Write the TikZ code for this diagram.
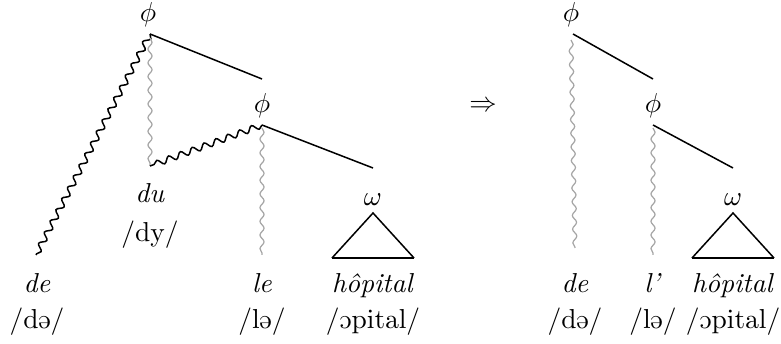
\documentclass[tikz,border=0pt]{standalone}
\usepackage{tipa}
\usetikzlibrary{decorations.pathmorphing}
\begin{document}
\begin{tikzpicture}[x=0.365pt,y=-0.365pt,
  lab/.style={inner sep=0pt, anchor=base},
  solidline/.style={line width=0.55pt},
  wavy/.style={decorate, decoration={snake, amplitude=1.1pt, segment length=4.6pt}, line width=0.55pt},
  gwavy/.style={decorate, decoration={snake, amplitude=0.75pt, segment length=5pt}, draw=black!35, line width=0.45pt},
  tribase/.style={line width=1pt},
  triside/.style={line width=0.55pt}]
\useasboundingbox (0,0) rectangle (781,344);
% ---------- left tree ----------
\node[lab] (phiA) at (148,22) {$\phi$};
\node[lab] (phiB) at (262,113) {$\phi$};
\node[lab] (omA) at (373,206) {$\omega$};
\node[lab] (du) at (150,203) {\textit{du}};
\node[lab] (duipa) at (150,242) {/dy/};
\node[lab] (deA) at (37,292) {\textit{de}};
\node[lab] (deAipa) at (37,328) {/\textipa{d@}/};
\node[lab] (leA) at (262,292) {\textit{le}};
\node[lab] (leAipa) at (262,328) {/\textipa{l@}/};
\node[lab] (hopA) at (373,292) {\textit{h\^opital}};
\node[lab] (hopAipa) at (373,328) {/\textipa{Opital}/};
\coordinate (a1) at (150,34);
\coordinate (a2) at (262,79);
\coordinate (a3) at (36,255);
\coordinate (a4) at (150,38);
\coordinate (a5) at (150,166);
\coordinate (b1) at (262,125);
\coordinate (b2) at (373,168);
\coordinate (b3) at (262,128);
\coordinate (b4) at (262,255);
\coordinate (c0) at (373,213);
\coordinate (c1) at (332,258);
\coordinate (c2) at (414,258);
\draw[solidline] (a1) -- (a2);
\draw[wavy] (a1) -- (a3);
\draw[gwavy] (a4) -- (a5);
\draw[solidline] (b1) -- (b2);
\draw[wavy] (b1) -- (a5);
\draw[gwavy] (b3) -- (b4);
\draw[triside] (c1) -- (c0) -- (c2);
\draw[tribase] (c1) -- (c2);
% ---------- arrow ----------
\node (arr) at (483,106) {$\Rightarrow$};
% ---------- right tree ----------
\node[lab] (phiC) at (571,22) {$\phi$};
\node[lab] (phiD) at (653,113) {$\phi$};
\node[lab] (omB) at (733,206) {$\omega$};
\node[lab] (deB) at (575,292) {\textit{de}};
\node[lab] (deBipa) at (575,328) {/\textipa{d@}/};
\node[lab] (leB) at (653,292) {\textit{l'}};
\node[lab] (leBipa) at (653,328) {/\textipa{l@}/};
\node[lab] (hopB) at (733,292) {\textit{h\^opital}};
\node[lab] (hopBipa) at (733,328) {/\textipa{Opital}/};
\coordinate (d1) at (573,34);
\coordinate (d2) at (653,79);
\coordinate (d3) at (571,40);
\coordinate (d4) at (575,248);
\coordinate (e1) at (653,125);
\coordinate (e2) at (733,168);
\coordinate (e3) at (653,128);
\coordinate (e4) at (653,255);
\coordinate (f0) at (733,213);
\coordinate (f1) at (692,258);
\coordinate (f2) at (774,258);
\draw[solidline] (d1) -- (d2);
\draw[gwavy] (d3) -- (d4);
\draw[solidline] (e1) -- (e2);
\draw[gwavy] (e3) -- (e4);
\draw[triside] (f1) -- (f0) -- (f2);
\draw[tribase] (f1) -- (f2);
\end{tikzpicture}
\end{document}
